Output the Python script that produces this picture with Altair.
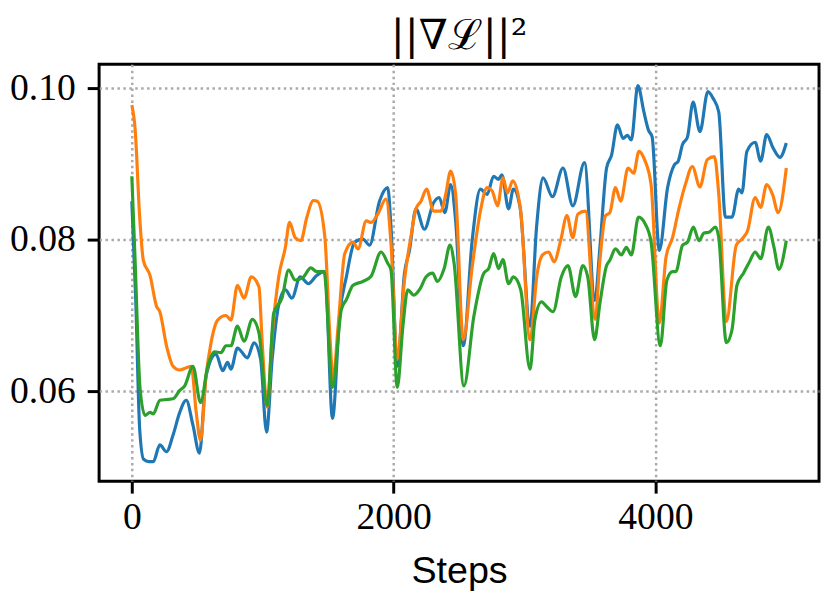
import altair as alt
import pandas as pd

# ---- data ----
blue_steps = [0, 30, 60, 90, 130, 164, 214, 265, 315, 366, 416, 467, 517, 567, 643, 694, 731, 757, 807, 883, 933, 984,
              1029, 1072, 1122, 1173, 1223, 1286, 1349, 1412, 1475, 1533, 1589, 1639, 1702, 1765, 1816, 1892, 1955, 1980,
              2028, 2083, 2121, 2171, 2235, 2305, 2348, 2391, 2436, 2474, 2532, 2600, 2663, 2714, 2764, 2802, 2827, 2878,
              2915, 2966, 3042, 3092, 3142, 3213, 3294, 3369, 3458, 3537, 3576, 3627, 3665, 3710, 3753, 3786, 3816, 3866,
              3912, 3947, 3975, 4030, 4093, 4144, 4174, 4207, 4245, 4288, 4340, 4401, 4441, 4484, 4535, 4585, 4636, 4661,
              4699, 4762, 4804, 4850, 4900, 4951, 5000]
blue_vals = [0.0851, 0.0720, 0.0550, 0.0510, 0.0507, 0.0507, 0.0529, 0.0520, 0.0542, 0.0572, 0.0588, 0.0555, 0.0518,
             0.0620, 0.0649, 0.0627, 0.0638, 0.0629, 0.0657, 0.0644, 0.0664, 0.0642, 0.0546, 0.0642, 0.0714, 0.0734,
             0.0723, 0.0751, 0.0742, 0.0753, 0.0758, 0.0564, 0.0703, 0.0751, 0.0797, 0.0801, 0.0793, 0.0851, 0.0869,
             0.0817, 0.0633, 0.0756, 0.0786, 0.0841, 0.0814, 0.0849, 0.0856, 0.0836, 0.0873, 0.0825, 0.0660, 0.0799,
             0.0867, 0.0860, 0.0884, 0.0880, 0.0886, 0.0841, 0.0867, 0.0843, 0.0686, 0.0817, 0.0882, 0.0857, 0.0895,
             0.0845, 0.0902, 0.0720, 0.0790, 0.0895, 0.0912, 0.0952, 0.0934, 0.0938, 0.0932, 0.1004, 0.0969, 0.0945,
             0.0936, 0.0786, 0.0869, 0.0899, 0.0904, 0.0926, 0.0936, 0.0982, 0.0943, 0.0996, 0.0987, 0.0969, 0.0830,
             0.0830, 0.0867, 0.0862, 0.0917, 0.0929, 0.0904, 0.0939, 0.0921, 0.0909, 0.0928]

orange_steps = [0, 25, 60, 88, 139, 189, 214, 265, 315, 366, 416, 454, 492, 525, 567, 605, 656, 719, 757, 807, 857, 913,
                971, 996, 1034, 1072, 1122, 1173, 1205, 1248, 1291, 1337, 1387, 1417, 1475, 1513, 1538, 1576, 1627, 1690,
                1728, 1791, 1828, 1879, 1942, 1980, 2028, 2083, 2134, 2171, 2209, 2252, 2305, 2361, 2398, 2436, 2474, 2532,
                2600, 2663, 2714, 2752, 2794, 2835, 2870, 2910, 2971, 3042, 3097, 3137, 3185, 3226, 3276, 3324, 3369, 3407,
                3465, 3540, 3576, 3619, 3652, 3695, 3735, 3791, 3834, 3874, 3917, 3967, 4030, 4081, 4131, 4182, 4232, 4282,
                4340, 4396, 4451, 4484, 4542, 4618, 4661, 4704, 4762, 4804, 4850, 4895, 4938, 5000]
orange_vals = [0.0978, 0.0947, 0.0830, 0.0773, 0.0753, 0.0712, 0.0705, 0.0660, 0.0633, 0.0628, 0.0631, 0.0633, 0.0572,
               0.0535, 0.0620, 0.0664, 0.0694, 0.0700, 0.0694, 0.0740, 0.0723, 0.0751, 0.0738, 0.0664, 0.0579, 0.0673,
               0.0751, 0.0790, 0.0823, 0.0803, 0.0799, 0.0830, 0.0852, 0.0851, 0.0803, 0.0673, 0.0616, 0.0686, 0.0782,
               0.0797, 0.0788, 0.0825, 0.0823, 0.0834, 0.0854, 0.0795, 0.0642, 0.0747, 0.0806, 0.0841, 0.0851, 0.0867,
               0.0838, 0.0838, 0.0860, 0.0891, 0.0860, 0.0668, 0.0764, 0.0838, 0.0869, 0.0865, 0.0845, 0.0882, 0.0862,
               0.0878, 0.0838, 0.0668, 0.0756, 0.0780, 0.0784, 0.0771, 0.0799, 0.0832, 0.0803, 0.0834, 0.0838, 0.0695,
               0.0773, 0.0832, 0.0836, 0.0869, 0.0851, 0.0895, 0.0888, 0.0917, 0.0906, 0.0873, 0.0690, 0.0777, 0.0803,
               0.0843, 0.0875, 0.0897, 0.0870, 0.0906, 0.0910, 0.0860, 0.0692, 0.0793, 0.0801, 0.0812, 0.0856, 0.0843,
               0.0873, 0.0860, 0.0836, 0.0895]

green_steps = [0, 25, 63, 101, 139, 164, 214, 265, 315, 366, 404, 467, 525, 580, 631, 681, 719, 757, 807, 857, 921, 971,
               1034, 1084, 1147, 1198, 1248, 1311, 1367, 1412, 1468, 1533, 1601, 1639, 1690, 1765, 1828, 1904, 1955, 1980,
               2028, 2071, 2108, 2154, 2204, 2247, 2298, 2335, 2386, 2431, 2462, 2537, 2613, 2689, 2726, 2764, 2802, 2835,
               2878, 2915, 2971, 3042, 3079, 3130, 3168, 3218, 3281, 3332, 3390, 3445, 3483, 3535, 3576, 3627, 3652, 3695,
               3740, 3778, 3816, 3871, 3922, 3967, 4038, 4088, 4131, 4156, 4207, 4245, 4290, 4333, 4371, 4409, 4459, 4484,
               4542, 4585, 4623, 4673, 4719, 4762, 4804, 4863, 4906, 4943, 5000]
green_vals = [0.0884, 0.0773, 0.0603, 0.0568, 0.0572, 0.0570, 0.0588, 0.0589, 0.0590, 0.0601, 0.0607, 0.0633, 0.0585,
              0.0633, 0.0652, 0.0651, 0.0660, 0.0660, 0.0686, 0.0666, 0.0695, 0.0677, 0.0581, 0.0703, 0.0723, 0.0760,
              0.0747, 0.0751, 0.0763, 0.0758, 0.0758, 0.0605, 0.0708, 0.0721, 0.0740, 0.0745, 0.0752, 0.0784, 0.0769,
              0.0760, 0.0605, 0.0686, 0.0734, 0.0727, 0.0736, 0.0751, 0.0756, 0.0745, 0.0762, 0.0793, 0.0769, 0.0607,
              0.0699, 0.0756, 0.0762, 0.0782, 0.0762, 0.0774, 0.0742, 0.0751, 0.0734, 0.0629, 0.0694, 0.0718, 0.0712,
              0.0705, 0.0751, 0.0766, 0.0725, 0.0766, 0.0751, 0.0668, 0.0716, 0.0766, 0.0773, 0.0788, 0.0780, 0.0790,
              0.0780, 0.0830, 0.0821, 0.0797, 0.0660, 0.0747, 0.0758, 0.0758, 0.0793, 0.0797, 0.0817, 0.0799, 0.0809,
              0.0810, 0.0817, 0.0803, 0.0664, 0.0681, 0.0740, 0.0756, 0.0771, 0.0784, 0.0775, 0.0817, 0.0790, 0.0761,
              0.0799]

x_ticks = [0, 2000, 4000]
y_ticks = [0.06, 0.08, 0.10]
x_domain = [-250, 5250]
y_domain = [0.0481, 0.1032]

series = [
    ("#1f77b4", blue_steps, blue_vals),
    ("#ff7f0e", orange_steps, orange_vals),
    ("#2ca02c", green_steps, green_vals),
]

layers = []
for color, steps, vals in series:
    df = pd.DataFrame({"step": steps, "value": vals})
    layers.append(
        alt.Chart(df).mark_line(color=color, strokeWidth=3.2, interpolate="monotone", clip=True).encode(
            x=alt.X("step:Q",
                    scale=alt.Scale(domain=x_domain, nice=False, zero=False),
                    axis=alt.Axis(values=x_ticks, format="d", title="Steps", labelPadding=6,
                                  titlePadding=16)),
            y=alt.Y("value:Q",
                    scale=alt.Scale(domain=y_domain, nice=False, zero=False),
                    axis=alt.Axis(values=y_ticks, format=".2f", title=None, labelPadding=12)),
        )
    )

chart = alt.layer(*layers).properties(
    width=727,
    height=421,
    autosize=alt.AutoSizeParams(type="none"),
    padding={"left": 92, "top": 54, "right": 3, "bottom": 110},
    title=alt.TitleParams(text="||∇ℒ||²", font="DejaVu Serif", fontSize=42, fontWeight="normal",
                          color="black", anchor="middle", offset=6),
).configure_view(
    stroke="black", strokeWidth=3
).configure_axis(
    domain=False,
    ticks=True, tickColor="black", tickWidth=3, tickSize=12,
    labelFont="Liberation Serif", labelFontSize=38, labelColor="black",
    titleFont="Liberation Sans", titleFontSize=38, titleFontWeight="normal", titleColor="black",
    grid=True, gridColor="#aaaaaa", gridDash=[2.5, 3.5], gridWidth=2.5, gridOpacity=1,
)

chart.save("out.html", embed_options={"renderer": "svg", "actions": False})
